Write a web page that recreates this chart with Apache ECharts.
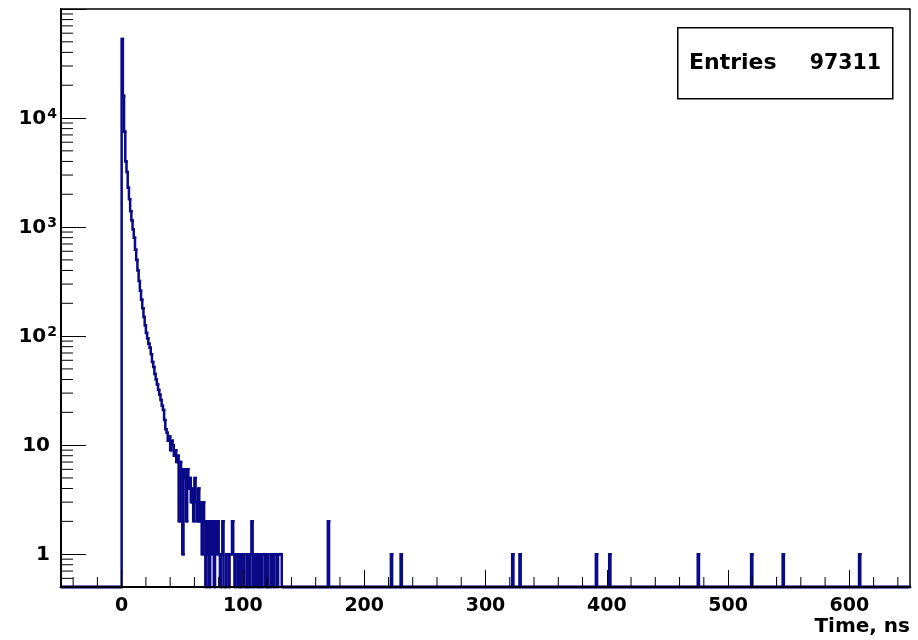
<!DOCTYPE html>
<html><head><meta charset="utf-8">
<script src="https://cdn.jsdelivr.net/npm/echarts@6/dist/echarts.min.js"></script>
<style>html,body{margin:0;padding:0;background:#fff}#c{width:918px;height:640px}</style>
</head><body><div id="c"></div>
<script>
// ---------------- data ----------------
const binLow = -50;          // lower edge of first bin (ns)
const binWidth = 1;          // ns
const binCount = 700;        // -50 .. 650 ns
const tailStart = 0;         // time (ns) of first entry of tailCounts
const tailCounts = [
  53000, 16000, 7500, 4000, 3200, 2300, 1800, 1400, 1150, 950,
  800, 620, 500, 400, 320, 260, 215, 180, 150, 125,
  107, 95, 85, 78, 68, 58, 52, 45, 40, 36,
  32, 29, 26, 23, 21, 17, 14, 13, 11, 12,
  9, 11, 10, 8, 9, 7, 8, 2, 7, 6,
  1, 6, 5, 2, 6, 4, 5, 3, 4, 2,
  5, 3, 2, 4, 2, 3, 1, 3, 2, 0,
  2, 1, 0, 2, 1, 2, 0, 2, 1, 2,
  1, 0, 1, 2, 0, 0, 1, 1, 0, 1,
  1, 2, 1, 0, 1, 1, 0, 1, 0, 1,
  1, 0, 0, 1, 0, 0, 1, 2, 0, 1,
  1, 0, 1, 0, 1, 0, 1, 1, 0, 0,
  1, 0, 0, 1, 1, 0, 1, 1, 0, 1,
  1, 1
];
const spikeTimes  = [170, 222, 230, 322, 328, 391, 402, 475, 519, 545, 608];
const spikeCounts = [2, 1, 1, 1, 1, 1, 1, 1, 1, 1, 1];
const entries = 97311;
const statsLabel = 'Entries';
const xTitle = 'Time, ns';
const xMajorTicks = [0, 100, 200, 300, 400, 500, 600];
const xMinorTicks = [-40, -20, 20, 40, 60, 80, 120, 140, 160, 180, 220, 240, 260, 280,
  320, 340, 360, 380, 420, 440, 460, 480, 520, 540, 560, 580, 620, 640];
const yMajorTicks = [1, 10, 100, 1000, 10000];
const yMinorTicks = [0.6, 0.7, 0.8, 0.9,
  2, 3, 4, 5, 6, 7, 8, 9,
  20, 30, 40, 50, 60, 70, 80, 90,
  200, 300, 400, 500, 600, 700, 800, 900,
  2000, 3000, 4000, 5000, 6000, 7000, 8000, 9000,
  20000, 30000, 40000, 50000, 60000, 70000, 80000, 90000];

// ---------------- axis ranges ----------------
const xMin = -50, xMax = 650;
const yMin = 0.5, yMax = 100000;

// ---------------- build bins ----------------
const counts = new Array(binCount).fill(0);
tailCounts.forEach((c, i) => { counts[Math.round((tailStart + i - binLow) / binWidth)] = c; });
spikeTimes.forEach((t, i) => { counts[Math.round((t - binLow) / binWidth)] = spikeCounts[i]; });
const bins = counts.map((c, i) => {
  const lo = binLow + i * binWidth;
  return [lo, lo + binWidth, c, i > 0 ? counts[i - 1] : 0];
});

const FONT = 'DejaVu Sans';
const histColor = '#0a0a88';

const chart = echarts.init(document.getElementById('c'), null, {renderer: 'canvas'});
chart.setOption({
  animation: false,
  backgroundColor: '#ffffff',
  grid: {left: 61, right: 8, top: 9, bottom: 53, show: true, borderColor: '#000', borderWidth: 1.5, backgroundColor: 'transparent', containLabel: false},
  xAxis: {
    type: 'value', min: xMin, max: xMax, z: 3,
    splitLine: {show: false},
    axisLine: {onZero: false, lineStyle: {color: '#000', width: 2}},
    axisTick: {inside: true, length: 17, customValues: xMajorTicks, lineStyle: {color: '#000', width: 1}},
    axisLabel: {
      customValues: xMajorTicks,
      formatter: v => (v <= xMin || v >= xMax) ? '' : String(v),
      color: '#000', fontFamily: FONT, fontWeight: 'bold', fontSize: 19, margin: 10
    },
    name: xTitle, nameLocation: 'end', nameGap: 0,
    nameTextStyle: {color: '#000', fontFamily: FONT, fontWeight: 'bold', fontSize: 20, align: 'right', verticalAlign: 'top', padding: [30, 0, 0, 0]}
  },
  yAxis: {
    type: 'log', logBase: 10, min: yMin, max: yMax, z: 3,
    splitLine: {show: false},
    axisLine: {onZero: false, lineStyle: {color: '#000', width: 2}},
    axisTick: {inside: true, length: 25, lineStyle: {color: '#000', width: 1}},
    axisLabel: {
      margin: 4,
      formatter: v => {
        if (v < 0.99 || v > 10000 * 1.01) return '';
        const e = Math.round(Math.log10(v));
        if (e === 0) return '{p|1}';
        if (e === 1) return '{p|10}';
        return '{b|10}{s|' + e + '}';
      },
      rich: {
        p: {color: '#000', fontFamily: FONT, fontWeight: 'bold', fontSize: 20, padding: [2, 7, 0, 0]},
        b: {color: '#000', fontFamily: FONT, fontWeight: 'bold', fontSize: 20, padding: [2, 0, 0, 0]},
        s: {color: '#000', fontFamily: FONT, fontWeight: 'bold', fontSize: 14, verticalAlign: 'top', padding: [0, 0, 6, 1]}
      }
    }
  },
  graphic: [
    {type: 'rect', left: 677, top: 27, shape: {width: 215, height: 71}, style: {fill: '#fff', stroke: '#000', lineWidth: 1.5}, z: 10},
    {type: 'text', left: 689, top: 52, style: {text: statsLabel, fill: '#000', font: 'bold 22px "DejaVu Sans"'}, z: 11},
    {type: 'text', right: 918 - 881, top: 53, style: {text: String(entries), fill: '#000', font: 'bold 20.5px "DejaVu Sans"', align: 'right'}, z: 11}
  ],
  series: [
    {
      type: 'custom', name: 'hist', z: 2, silent: true,
      data: bins, encode: {x: [0, 1], y: 2},
      renderItem: (params, api) => {
        const lo = api.value(0), hi = api.value(1);
        const c = Math.min(Math.max(api.value(2), yMin), yMax);
        const pc = Math.min(Math.max(api.value(3), yMin), yMax);
        const a = api.coord([lo, pc]), b = api.coord([lo, c]), d = api.coord([hi, c]);
        return {type: 'polyline', shape: {points: [a, b, d]},
          style: {stroke: histColor, lineWidth: 2.5, fill: null, lineJoin: 'miter', lineCap: 'square'}};
      }
    },
    {
      type: 'custom', name: 'xMinor', z: 4, silent: true,
      data: xMinorTicks.map(v => [v, yMin]),
      renderItem: (params, api) => {
        const p = api.coord([api.value(0), yMin]);
        return {type: 'line', shape: {x1: p[0], y1: p[1], x2: p[0], y2: p[1] - 10}, style: {stroke: '#000', lineWidth: 1}};
      }
    },
    {
      type: 'custom', name: 'yMinor', z: 4, silent: true,
      data: yMinorTicks.map(v => [xMin, v]),
      renderItem: (params, api) => {
        const p = api.coord([xMin, api.value(1)]);
        return {type: 'line', shape: {x1: p[0], y1: p[1], x2: p[0] + 12, y2: p[1]}, style: {stroke: '#000', lineWidth: 1}};
      }
    }
  ]
});
</script></body></html>
